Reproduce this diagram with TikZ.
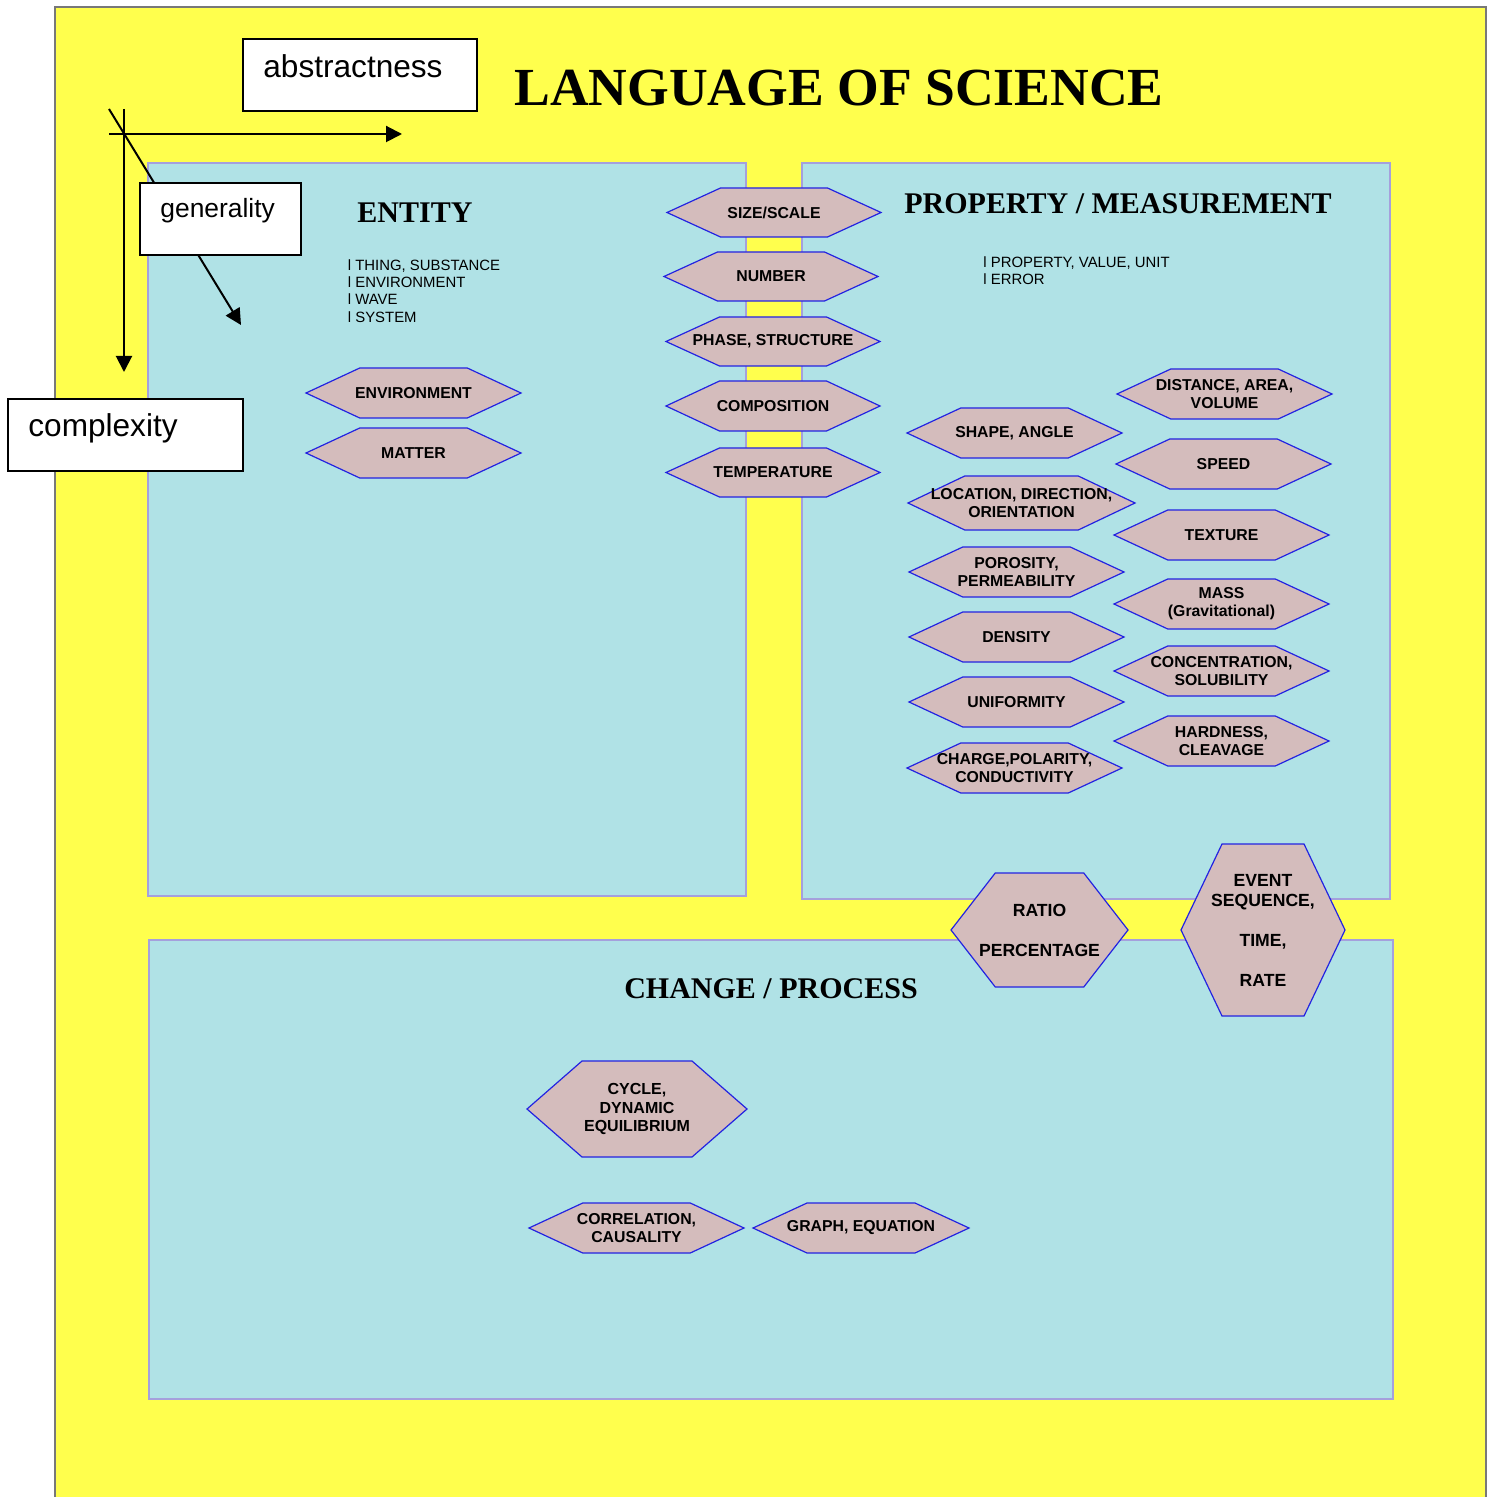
\documentclass[tikz,border=0pt]{standalone}
\usepackage{fontspec}
\setmainfont{Liberation Sans}
\newfontfamily\titlefont{Liberation Serif}
\usetikzlibrary{arrows.meta}

\definecolor{bgyellow}{RGB}{255,255,77}
\definecolor{framegray}{RGB}{120,120,120}
\definecolor{panelblue}{RGB}{176,226,230}
\definecolor{panelline}{RGB}{165,160,220}
\definecolor{hexfill}{RGB}{212,188,188}
\definecolor{hexline}{RGB}{35,35,225}

\tikzset{
  panel/.style={fill=panelblue, draw=panelline, line width=1pt},
  hexedge/.style={fill=hexfill, draw=hexline, line width=0.6pt, line join=miter},
  hexlabel/.style={font=\bfseries\fontsize{7.9}{9}\selectfont, align=center, inner sep=0pt},
  biglabel/.style={font=\bfseries\fontsize{8.8}{10}\selectfont},
  axisbox/.style={draw=black, fill=white, line width=1pt, inner sep=0pt, anchor=north west},
  axistext/.style={inner sep=0pt, anchor=base west},
  axisarrow/.style={draw=black, line width=1pt, -{Triangle[length=8pt,width=8pt]}},
  heading/.style={font=\titlefont\bfseries\fontsize{15}{18}\selectfont, inner sep=0pt},
  listtext/.style={font=\fontsize{7.45}{8.7}\selectfont, align=left, inner sep=0pt, anchor=north west}
}

% hexagon with pointed ends: [label style]{name}{cx}{cy}{width}{height}{text}
\newcommand\hexitem[7][]{%
  \path[hexedge] ({#3-#5/2},#4) -- ({#3-#5/4},{#4-#6/2}) -- ({#3+#5/4},{#4-#6/2})
    -- ({#3+#5/2},#4) -- ({#3+#5/4},{#4+#6/2}) -- ({#3-#5/4},{#4+#6/2}) -- cycle;
  \node[hexlabel,#1] (#2) at (#3,#4) {#7};
}

\begin{document}
\begin{tikzpicture}[x=0.5pt, y=-0.5pt]
\useasboundingbox (0,0) rectangle (1489,1497);

% page background and frame
\fill[bgyellow] (55,7) rectangle (1486,1500);
\draw[framegray, line width=0.8pt] (55,1500) -- (55,7) -- (1486,7) -- (1486,1500);

% three panels
\path[panel] (148,163) rectangle (746,896);
\path[panel] (802,163) rectangle (1390,899);
\path[panel] (149,940) rectangle (1393,1399);

% axes
\coordinate (hstart) at (109,134);
\coordinate (hend) at (402,134);
\coordinate (vstart) at (124,109);
\coordinate (vend) at (124,372);
\coordinate (dstart) at (109,109);
\coordinate (dend) at (241,325);
\draw[axisarrow] (hstart) -- (hend);
\draw[axisarrow] (vstart) -- (vend);
\draw[axisarrow] (dstart) -- (dend);

% axis labels
\node[axisbox, minimum width=117pt, minimum height=36pt] (abox) at (242,38) {};
\node[axistext, font=\fontsize{15.8}{18}\selectfont] (atext) at (263,78) {abstractness};
\node[axisbox, minimum width=80.5pt, minimum height=36pt] (gbox) at (139,182) {};
\node[axistext, font=\fontsize{13.2}{16}\selectfont] (gtext) at (160,218) {generality};
\node[axisbox, minimum width=117.5pt, minimum height=36pt] (cbox) at (7,398) {};
\node[axistext, font=\fontsize{15.8}{18}\selectfont] (ctext) at (28,437) {complexity};

% titles
\node[font=\titlefont\bfseries\fontsize{26.8}{30}\selectfont, inner sep=0pt] (title) at (839,88) {LANGUAGE OF SCIENCE};
\node[heading] (entity) at (415,213) {ENTITY};
\node[heading] (property) at (1118,204) {PROPERTY / MEASUREMENT};
\node[heading] (change) at (771,989) {CHANGE / PROCESS};

% lists
\node[listtext] (entlist) at (347.5,259) {l THING, SUBSTANCE\\l ENVIRONMENT\\l WAVE\\l SYSTEM};
\node[listtext] (proplist) at (983,256) {l PROPERTY, VALUE, UNIT\\l ERROR};

% entity
\hexitem{environment}{413.5}{393}{215}{50}{ENVIRONMENT}
\hexitem{matter}{413.5}{453}{215}{50}{MATTER}

% central column
\hexitem{sizescale}{774}{212.5}{214}{49}{SIZE/SCALE}
\hexitem{number}{771}{276.5}{214}{49}{NUMBER}
\hexitem{phase}{773}{341.5}{214}{49}{PHASE, STRUCTURE}
\hexitem{composition}{773}{406}{214}{50}{COMPOSITION}
\hexitem{temperature}{773}{472.5}{214}{49}{TEMPERATURE}

% property / measurement, left column
\hexitem{shape}{1014.5}{433}{215}{50}{SHAPE, ANGLE}
\hexitem{location}{1021.5}{503}{227}{54}{LOCATION, DIRECTION,\\ORIENTATION}
\hexitem{porosity}{1016.5}{572}{215}{50}{POROSITY,\\PERMEABILITY}
\hexitem{density}{1016.5}{637}{215}{50}{DENSITY}
\hexitem{uniformity}{1016.5}{702}{215}{50}{UNIFORMITY}
\hexitem{charge}{1014.5}{768}{215}{50}{CHARGE,POLARITY,\\CONDUCTIVITY}

% property / measurement, right column
\hexitem{distance}{1224.5}{394}{215}{50}{DISTANCE, AREA,\\VOLUME}
\hexitem{speed}{1223.5}{464}{215}{50}{SPEED}
\hexitem{texture}{1221.5}{535}{215}{50}{TEXTURE}
\hexitem{mass}{1221.5}{604}{215}{50}{MASS\\(Gravitational)}
\hexitem{concentration}{1221.5}{671}{215}{50}{CONCENTRATION,\\SOLUBILITY}
\hexitem{hardness}{1221.5}{741}{215}{50}{HARDNESS,\\CLEAVAGE}

% between panels
\hexitem[biglabel]{ratio}{1039.5}{930}{177}{114}{RATIO\\[10pt]PERCENTAGE}
\hexitem[biglabel]{event}{1263}{930}{164}{172}{EVENT\\SEQUENCE,\\[10pt]TIME,\\[10pt]RATE}

% change / process
\hexitem[font=\bfseries\fontsize{8}{9.3}\selectfont]{cycle}{637}{1109}{220}{96}{CYCLE,\\DYNAMIC\\EQUILIBRIUM}
\hexitem{correlation}{636.5}{1228}{215}{50}{CORRELATION,\\CAUSALITY}
\hexitem{graph}{861}{1228}{216}{50}{GRAPH, EQUATION}
\end{tikzpicture}
\end{document}
